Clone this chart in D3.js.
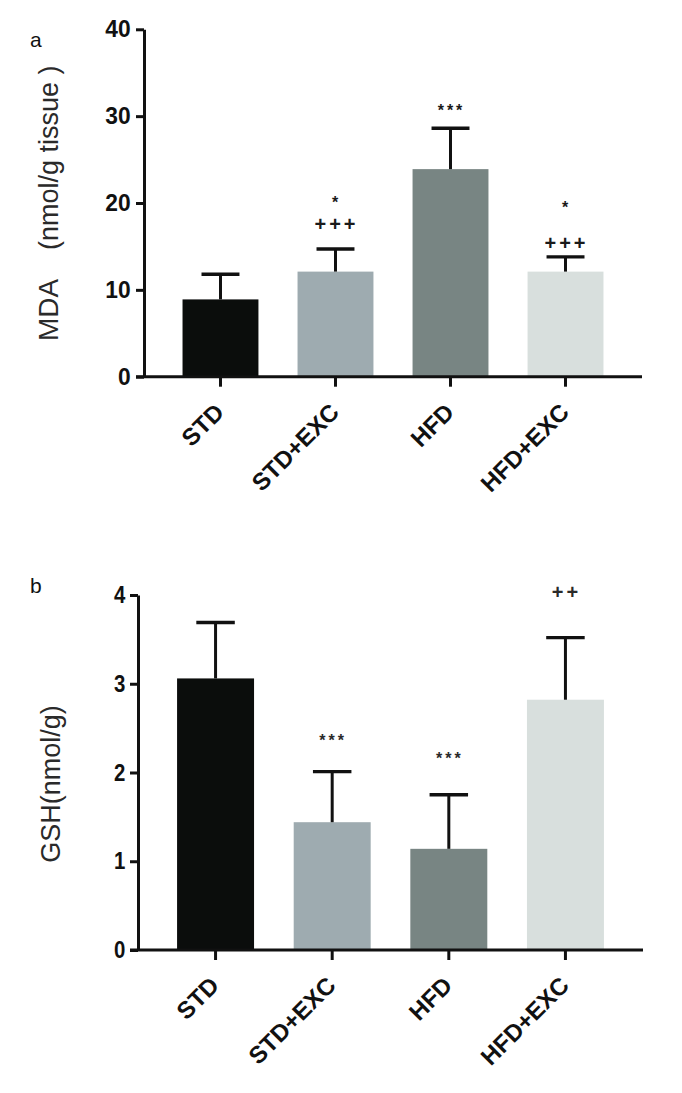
<!DOCTYPE html>
<html>
<head>
<meta charset="utf-8">
<script src="https://cdn.jsdelivr.net/npm/d3@7"></script>
<style>
  html, body { margin: 0; padding: 0; background: #fff; }
  svg { display: block; }
  text { font-family: "Liberation Sans", Arial, sans-serif; }
</style>
</head>
<body>
<script>
// ---------- DATA ----------
const categories = ["STD", "STD+EXC", "HFD", "HFD+EXC"];
const barColors = ["#0b0d0c", "#9eabb0", "#788583", "#d8dfdd"];

// Panel a: MDA (nmol/g tissue)
const mdaMean = [8.9, 12.1, 23.9, 12.1];
const mdaErr  = [2.9, 2.6, 4.7, 1.7];
const mdaTicks = [0, 10, 20, 30, 40];
// significance marks: [category, text, level in data units]
const mdaMarks = [
  ["STD+EXC", "*", 20.5], ["STD+EXC", "+++", 17.6],
  ["HFD", "***", 31.1],
  ["HFD+EXC", "*", 19.9], ["HFD+EXC", "+++", 15.4]
];

// Panel b: GSH (nmol/g)
const gshMean = [3.06, 1.44, 1.14, 2.82];
const gshErr  = [0.63, 0.57, 0.61, 0.70];
const gshTicks = [0, 1, 2, 3, 4];
const gshMarks = [
  ["STD+EXC", "***", 2.40],
  ["HFD", "***", 2.20],
  ["HFD+EXC", "++", 4.04]
];

// ---------- DRAW ----------
const W = 682, H = 1093;
const svg = d3.select("body").append("svg").attr("width", W).attr("height", H);

function panel(opt) {
  const g = svg.append("g");
  const x = d3.scaleBand().domain(categories)
    .range([opt.x0, opt.x1]).paddingInner(0.34).paddingOuter(0.335);
  const y = d3.scaleLinear().domain([0, opt.ymax]).range([opt.yBottom, opt.yTop]);

  // bars
  const data = categories.map((c, i) => ({c, m: opt.mean[i], e: opt.err[i], col: barColors[i]}));
  g.selectAll("rect.bar").data(data).join("rect")
    .attr("class", "bar")
    .attr("x", d => x(d.c)).attr("width", x.bandwidth())
    .attr("y", d => y(d.m)).attr("height", d => y(0) - y(d.m))
    .attr("fill", d => d.col);

  // error bars (upper only)
  const cap = x.bandwidth() * 0.5;
  const eb = g.selectAll("g.eb").data(data).join("g").attr("class", "eb");
  eb.append("line")
    .attr("x1", d => x(d.c) + x.bandwidth() / 2).attr("x2", d => x(d.c) + x.bandwidth() / 2)
    .attr("y1", d => y(d.m)).attr("y2", d => y(d.m + d.e))
    .attr("stroke", "#111").attr("stroke-width", 3);
  eb.append("line")
    .attr("x1", d => x(d.c) + x.bandwidth() / 2 - cap / 2).attr("x2", d => x(d.c) + x.bandwidth() / 2 + cap / 2)
    .attr("y1", d => y(d.m + d.e)).attr("y2", d => y(d.m + d.e))
    .attr("stroke", "#111").attr("stroke-width", 3.4);

  // y axis
  const ya = g.append("g").attr("transform", `translate(${opt.x0},0)`)
    .call(d3.axisLeft(y).tickValues(opt.ticks).tickFormat(d3.format("d"))
      .tickSize(8).tickSizeOuter(0).tickPadding(opt.tickPad));
  ya.select(".domain").attr("stroke", "#111").attr("stroke-width", 3);
  ya.selectAll(".tick line").attr("stroke", "#111").attr("stroke-width", 3);
  ya.selectAll(".tick text")
    .attr("font-size", opt.tickSize).attr("font-weight", "bold").attr("fill", "#111")
    .attr("transform", `scale(${opt.tickStretch},1)`);

  // x axis
  const xa = g.append("g").attr("transform", `translate(0,${opt.yBottom})`)
    .call(d3.axisBottom(x).tickSize(10).tickSizeOuter(0));
  xa.select(".domain").attr("stroke", "#111").attr("stroke-width", 3)
    .attr("d", `M${opt.x0 - 8},0H${opt.x1}`);
  xa.selectAll(".tick line").attr("stroke", "#111").attr("stroke-width", 3);
  xa.selectAll(".tick text")
    .attr("font-size", 24).attr("font-weight", "bold").attr("fill", "#111")
    .attr("text-anchor", "end")
    .attr("y", 0).attr("dy", 0)
    .attr("transform", "translate(5,37) rotate(-45)");

  // significance marks
  opt.marks.forEach(([c, s, lvl]) => {
    const isStar = s.indexOf("*") >= 0;
    const fs = isStar ? 16 : 20;
    g.append("text")
      .attr("x", x(c) + x.bandwidth() / 2 + 1)
      .attr("y", y(lvl) + (isStar ? 0.57 : 0.355) * fs)
      .attr("text-anchor", "middle")
      .attr("font-size", fs)
      .attr("font-weight", "bold")
      .attr("letter-spacing", isStar ? 3 : 3)
      .attr("fill", opt.markColor || "#1a1a1a")
      .text(s);
  });

  // panel letter
  g.append("text").attr("x", 30).attr("y", opt.letterY)
    .attr("font-size", 21).attr("font-family", "'DejaVu Sans', sans-serif").attr("fill", "#111")
    .text(opt.letter);
  return {x, y, g};
}

const A = panel({
  x0: 144, x1: 642, yTop: 29.3, yBottom: 376.7, ymax: 40,
  mean: mdaMean, err: mdaErr, ticks: mdaTicks, marks: mdaMarks,
  tickSize: 24, tickStretch: 0.95, tickPad: 6,
  letter: "a", letterY: 47
});
// y label a
A.g.append("text")
  .attr("transform", `translate(58,341) rotate(-90)`)
  .attr("font-size", 28).attr("fill", "#2a2a2a").attr("text-anchor", "start")
  .text("MDA");
A.g.append("text")
  .attr("transform", `translate(58,250) rotate(-90)`)
  .attr("font-size", 27).attr("fill", "#2a2a2a").attr("text-anchor", "start")
  .attr("style", "white-space: pre")
  .text("(nmol/g tissue )");

const B = panel({
  x0: 138, x1: 643, yTop: 595, yBottom: 950, ymax: 4,
  mean: gshMean, err: gshErr, ticks: gshTicks, marks: gshMarks,
  tickSize: 24, tickStretch: 0.85, tickPad: 7,
  letter: "b", letterY: 593, markColor: "#2a2a2a"
});
B.g.append("text")
  .attr("transform", `translate(60,784) rotate(-90)`)
  .attr("font-size", 27).attr("fill", "#2a2a2a").attr("text-anchor", "middle")
  .text("GSH(nmol/g)");
</script>
</body>
</html>
